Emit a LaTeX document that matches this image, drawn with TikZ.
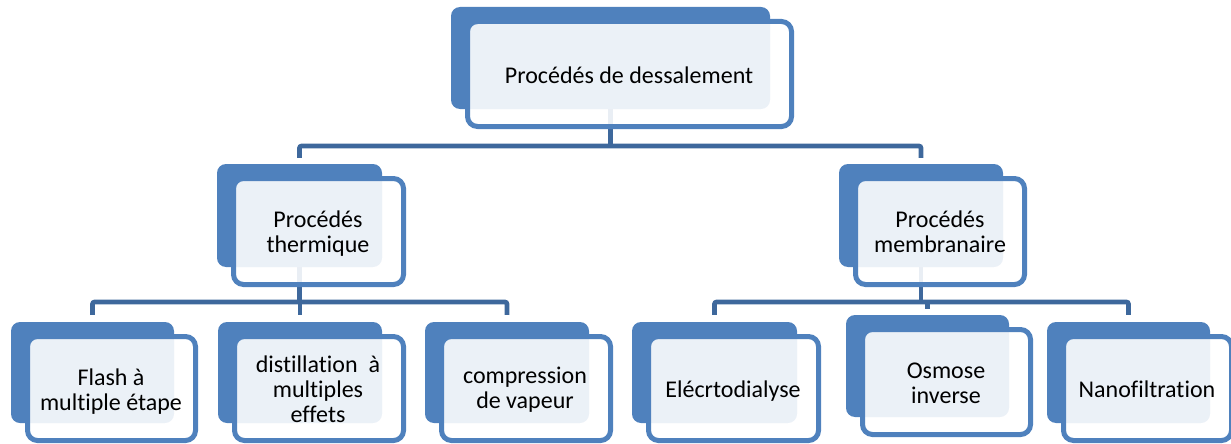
\documentclass[tikz,border=0pt]{standalone}
\usepackage{fontspec}
\setmainfont{Carlito}[Ligatures={NoCommon,NoContextual}]
\usetikzlibrary{backgrounds}
\definecolor{boxblue}{RGB}{79,129,189}
\definecolor{connblue}{RGB}{62,104,156}
\tikzset{
  backbox/.style={rectangle, fill=boxblue, rounded corners=9pt, inner sep=0pt, draw=none},
  frontbox/.style={rectangle, draw=boxblue, line width=5pt, fill=white, fill opacity=0.89, draw opacity=1, rounded corners=10pt, inner sep=0pt},
  conn/.style={draw=connblue, line width=4.6pt, rounded corners=2pt},
  label/.style={font=\fontsize{24}{25}\selectfont, align=center, inner sep=0pt, anchor=base, text=black}
}
\newcommand\boite[5]{%
  \pgfmathsetmacro\bw{#4-#2}\pgfmathsetmacro\bh{#5-#3}%
  \pgfmathsetmacro\bx{(#2+#4)/2}\pgfmathsetmacro\by{(#3+#5)/2}%
  \node[backbox, minimum width=\bw pt, minimum height=\bh pt] (#1b) at (\bx,\by) {};
  \node[frontbox, minimum width=\bw pt+5pt, minimum height=\bh pt+3pt] (#1f) at ([xshift=19pt,yshift=-16pt]#1b.center) {};
}
\begin{document}
\begin{tikzpicture}[x=1pt,y=-1pt]
\useasboundingbox (0,0) rectangle (1231,444);
\boite{top}{451}{7}{770}{109}
\boite{therm}{217}{164}{382}{267}
\boite{memb}{839}{164}{1003}{267}
\boite{flash}{11}{322}{174}{423}
\boite{dist}{218}{322}{382}{423}
\boite{comp}{425}{322}{589}{423}
\boite{elec}{632}{322}{797}{423}
\boite{osm}{846}{315}{1009}{417}
\boite{nano}{1047}{322}{1210}{423}

\coordinate (j1) at (0,146);
\coordinate (j2) at (0,302);

\begin{scope}[on background layer]
  \draw[conn] (topb.south) -- (topb.south |- j1);
  \draw[conn, shorten <=6pt, shorten >=6pt] (thermb.north) -- (thermb.north |- j1) -- (membb.north |- j1) -- (membb.north);
  \draw[conn] (thermb.south) -- (thermb.south |- j2);
  \draw[conn, shorten <=7pt, shorten >=7pt] (flashb.north) -- (flashb.north |- j2) -- (compb.north |- j2) -- (compb.north);
  \draw[conn, shorten <=7pt] (distb.north) -- (distb.north |- j2);
  \draw[conn] (membb.south) -- (membb.south |- j2);
  \draw[conn, shorten <=7pt, shorten >=7pt] (elecb.north) -- (elecb.north |- j2) -- (nanob.north |- j2) -- (nanob.north);
  \draw[conn, shorten <=6pt] (osmb.north) -- (osmb.north |- j2);
\end{scope}

\node[label] (ttop) at (629,83) {Procédés de dessalement};
\node[label] (ttherm) at (318,252) {Procédés\\thermique};
\node[label] (tmemb) at (940,252) {Procédés\\membranaire};
\node[label] (tflash) at (111,410) {Flash à\\multiple étape};
\node[label] (tdist) at (318,422) {distillation~ à\\multiples\\effets};
\node[label] (tcomp) at (525,408) {compression\\de vapeur};
\node[label] (telec) at (733,397) {Elécrtodialyse};
\node[label] (tosm) at (946,403) {Osmose\\inverse};
\node[label] (tnano) at (1147,397) {Nanofiltration};
\end{tikzpicture}
\end{document}
